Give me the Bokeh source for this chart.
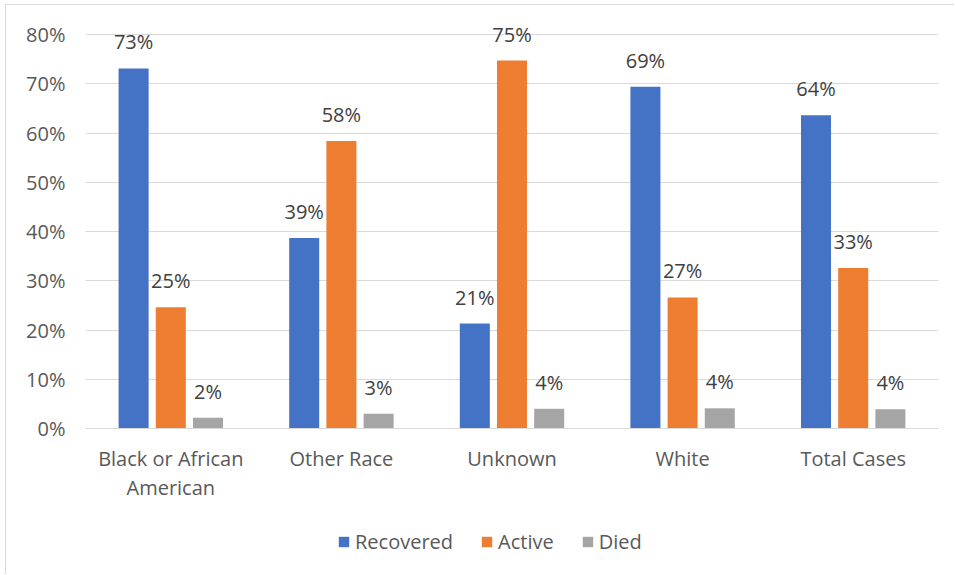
from bokeh.plotting import figure
from bokeh.models import (ColumnDataSource, Range1d, FixedTicker, PrintfTickFormatter,
                          LabelSet, Legend, LegendItem, Span)
from bokeh.core.properties import value
from bokeh.embed import file_html
from bokeh.resources import INLINE

categories = ["Black or African\nAmerican", "Other Race", "Unknown", "White", "Total Cases"]
series = ["Recovered", "Active", "Died"]
recovered = [73.1, 38.7, 21.3, 69.4, 63.6]
active = [24.6, 58.4, 74.7, 26.6, 32.6]
died = [2.2, 3.0, 4.0, 4.1, 3.9]
colors = ["#4472C4", "#ED7D31", "#A5A5A5"]
y_ticks = [0, 10, 20, 30, 40, 50, 60, 70, 80]

FONT = "Open Sans"
FS = "20px"
PX_PER_UNIT = 394 / 80.0          # plot scale: 80% spans 394 px
BOTTOM_PAD = 147                  # px below the 0% line reserved for labels/legend
TOP_PAD = 29                      # px above the 80% line (room for data labels)

p = figure(width=949, height=570, output_backend="svg", toolbar_location=None,
           x_range=Range1d(0, len(categories)),
           y_range=Range1d(-BOTTOM_PAD / PX_PER_UNIT, 80 + TOP_PAD / PX_PER_UNIT),
           min_border_left=79, min_border_right=17, min_border_top=0, min_border_bottom=0)
p.styles = {"margin-left": "5px", "margin-top": "4px",
            "border-left": "1px solid #d9d9d9", "border-top": "1px solid #d9d9d9"}
p.outline_line_color = None
p.background_fill_color = "white"
p.border_fill_color = "white"

centers = [i + 0.5 for i in range(len(categories))]
offsets = [-0.218, 0.0, 0.218]
bar_w = 0.176
renderers = []
for vals, off, col, name in zip([recovered, active, died], offsets, colors, series):
    src = ColumnDataSource(dict(x=[c + off for c in centers], top=vals,
                                lab=[f"{int(v + 0.5)}%" for v in vals]))
    r = p.vbar(x="x", top="top", width=bar_w, source=src, fill_color=col, line_color=None)
    renderers.append((name, r))
    p.add_layout(LabelSet(x="x", y="top", text="lab", source=src, text_align="center",
                          text_baseline="bottom", y_offset=13, text_font=value(FONT),
                          text_font_size=FS, text_color="#404040"))

# y axis
p.yaxis.ticker = FixedTicker(ticks=y_ticks)
p.yaxis.formatter = PrintfTickFormatter(format="%d%%")
p.yaxis.axis_line_color = None
p.yaxis.major_tick_line_color = None
p.yaxis.minor_tick_line_color = None
p.yaxis.major_label_text_font = FONT
p.yaxis.major_label_text_font_size = FS
p.yaxis.major_label_text_color = "#595959"
p.yaxis.major_label_standoff = 14

# hide the built-in x axis; category labels are drawn below the 0% line
p.xaxis.visible = False
p.xgrid.grid_line_color = None
p.ygrid.ticker = FixedTicker(ticks=y_ticks)
p.ygrid.grid_line_color = "#d9d9d9"
p.ygrid.grid_line_width = 1

p.add_layout(Span(location=0, dimension="width", line_color="#d9d9d9", line_width=1))

cat_src = ColumnDataSource(dict(x=centers, y=[0] * len(centers), t=categories))
p.text(x="x", y="y", text="t", source=cat_src, text_align="center", text_baseline="top",
       y_offset=16, text_font=value(FONT), text_font_size=FS, text_color="#595959",
       text_line_height=1.1)

legend = Legend(items=[LegendItem(label=n, renderers=[r]) for n, r in renderers],
                orientation="horizontal", location=(252, 20),
                border_line_color=None, background_fill_alpha=0,
                label_text_font=FONT, label_text_font_size=FS,
                label_text_color="#595959", glyph_width=13, glyph_height=13,
                spacing=27, label_standoff=5, padding=0, margin=0)
p.add_layout(legend, "center")

open("out.html", "w").write(file_html(p, INLINE))
